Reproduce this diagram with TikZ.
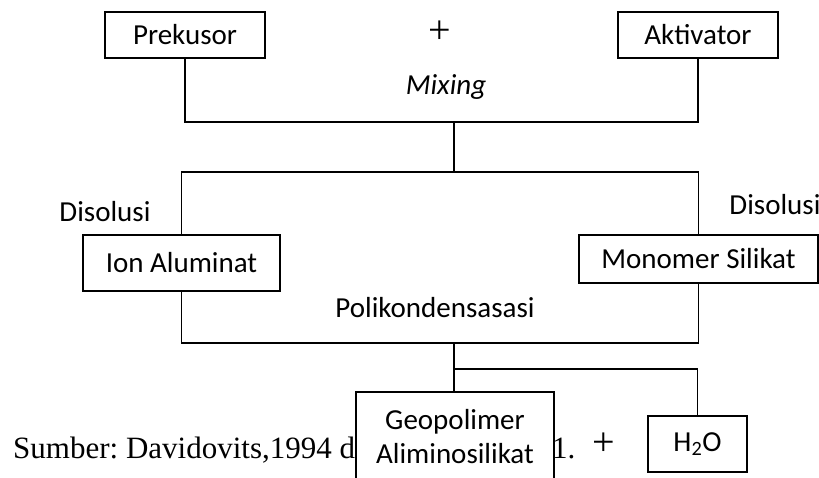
\documentclass[tikz,border=0pt]{standalone}
\usepackage{fontspec}
\setmainfont{Carlito}
\newfontfamily\srcfont{Liberation Serif}
\frenchspacing

\begin{document}
\begin{tikzpicture}[
    x = 1pt, y = -1pt,
    every node/.style = {font = \fontsize{29}{35}\selectfont},
    box/.style = {draw, line width = 1.2pt, inner sep = 0pt, fill = white},
    conn/.style = {line width = 1.2pt},
    srctext/.style = {anchor = base west, inner sep = 0pt, font = \srcfont\fontsize{31}{36}\selectfont},
    plus/.style = {font = \srcfont\fontsize{40}{44}\selectfont}]

\clip (0,0) rectangle (819,477);

% source text, partly hidden behind the product box
\path (13,458) node[srctext] (src) {Sumber: Davidovits,1994 d}
      (552,458) node[srctext] (srcend) {1.}
      (604,444) node[plus] (plusb) {+}
      ;

% boxes
\node[box, minimum width = 160, minimum height = 46] (prek) at (185,35) {Prekusor};
\node[box, minimum width = 160, minimum height = 46] (akt) at (698,35) {Aktivator};
\node[box, minimum width = 197, minimum height = 56] (ion) at (181.5,263) {Ion Aluminat};
\node[box, minimum width = 239, minimum height = 48] (mono) at (698.5,259) {Monomer Silikat};
\node[box, minimum width = 198, minimum height = 90, align = center] (geo) at (455,437) {Geopolimer\\[-1pt]Aliminosilikat};
\node[box, minimum width = 99, minimum height = 56] (water) at (697.5,444) {H\textsubscript{2}O};

% junctions
\coordinate (mixj) at (454,122);
\coordinate (disj) at (454,172);
\coordinate (polj) at (454,343);
\coordinate (watj) at (454,369);

% connectors
\draw[conn] (prek.south) |- (mixj) -| (akt.south);
\draw[conn] (mixj) -- (disj);
\draw[conn] (ion.north) |- (disj) -| (mono.north);
\draw[conn] (ion.south) |- (polj) -| (mono.south);
\draw[conn] (polj) -- (polj |- geo.north);
\draw[conn] (watj) -| (water.north);

% labels
\path (440,32) node[plus] (plust) {+}
      (446,87) node (mix) {\itshape Mixing}
      (105,212) node (disl) {Disolusi}
      (775,205) node (disr) {Disolusi}
      (435,308) node (pol) {Polikondensasasi}
      ;
\end{tikzpicture}
\end{document}
